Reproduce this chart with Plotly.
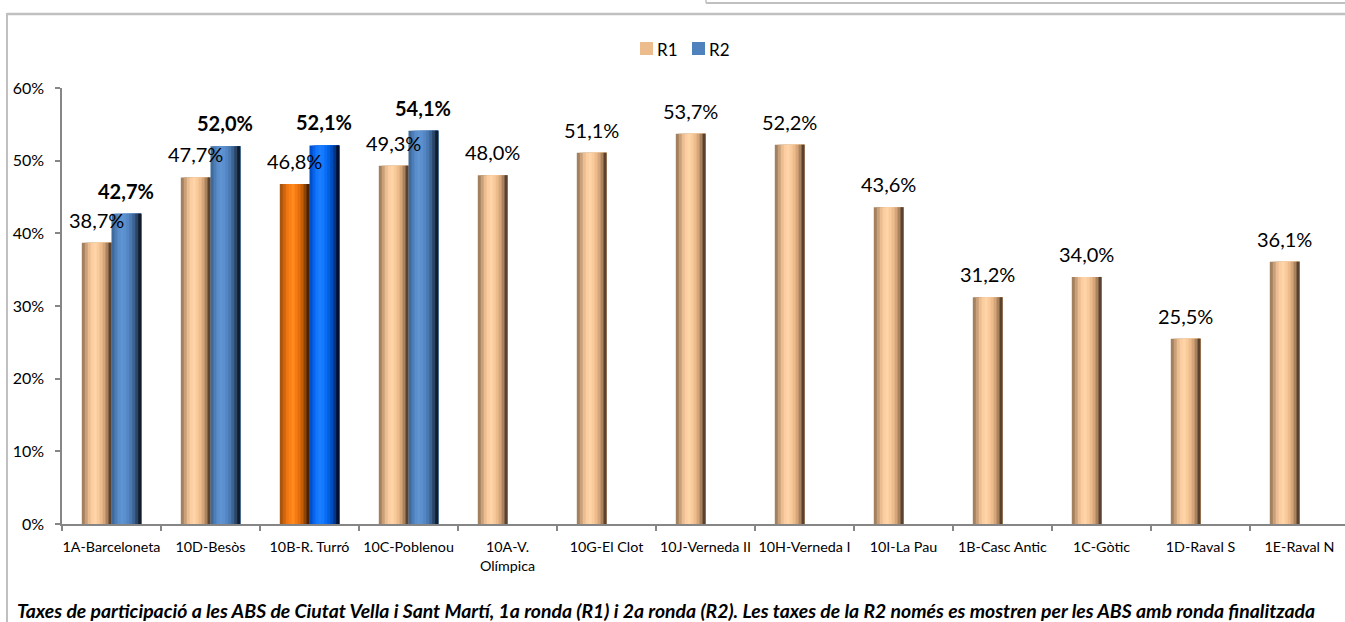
import plotly.graph_objects as go

# ---------------- data ----------------
categories = ["1A-Barceloneta", "10D-Besòs", "10B-R. Turró", "10C-Poblenou",
              "10A-V.<br>Olímpica", "10G-El Clot", "10J-Verneda II", "10H-Verneda I",
              "10I-La Pau", "1B-Casc Antic", "1C-Gòtic", "1D-Raval S", "1E-Raval N"]
r1 = [0.387, 0.477, 0.468, 0.493, 0.480, 0.511, 0.537, 0.522, 0.436, 0.312, 0.340, 0.255, 0.361]
r2 = [0.427, 0.520, 0.521, 0.541, None, None, None, None, None, None, None, None, None]
highlight = "10B-R. Turró"
series_names = ["R1", "R2"]
y_ticks = [0, 0.1, 0.2, 0.3, 0.4, 0.5, 0.6]
caption = ("Taxes de participació a les ABS de Ciutat Vella i Sant Martí, 1a ronda (R1) i 2a ronda (R2). "
           "Les taxes de la R2 només es mostren per les ABS amb ronda finalitzada")

# ---------------- styling ----------------
FONT = "Lato"
W, H = 1345, 622
ML, MR, MT, MB = 62, 0, 88, 98
PW = W - ML - MR
PH = H - MT - MB
CAT_PX = 99.0
x_max = -0.5 + PW / CAT_PX

def px_x(px):
    return (px - ML) / PW

def px_y(py):
    return (H - MB - py) / PH

BAR_W = 0.3
N_STRIPS = 10
SW = BAR_W / N_STRIPS

r1_norm = ['#A4815E', '#C9A07A', '#EBBE92', '#FBCDA0', '#FFD5A8', '#F9CA9B', '#EDBC8D', '#D6A67A', '#A9825E', '#5A4230']
r1_hi = ['#A8560E', '#D0640C', '#EE7612', '#FA8016', '#FF8A1E', '#F47A14', '#E46E0E', '#C45E08', '#8E4406', '#4A2202']
r2_norm = ['#3F6A9C', '#4E7EB8', '#5A8ECB', '#5F94D3', '#5B8FCD', '#5386C2', '#4A78B0', '#3C6392', '#2A4566', '#111D2C']
r2_hi = ['#0050C8', '#0864EE', '#1276FF', '#1A7EFF', '#147AFF', '#0A6CF4', '#0060E0', '#004EBC', '#00368A', '#00102E']
legend_cols = ["#EDBC8D", "#4F81BD"]


def fmt(v):
    return f"{v * 100:.1f}%".replace(".", ",")


fig = go.Figure()

series = [
    (series_names[0], r1, -BAR_W, r1_norm, r1_hi),
    (series_names[1], r2, 0.0, r2_norm, r2_hi),
]
for name, vals, base_off, norm, hi in series:
    for i in range(N_STRIPS):
        cols = [hi[i] if c == highlight else norm[i] for c in categories]
        fig.add_trace(go.Bar(
            x=categories, y=vals, name=name,
            offset=base_off + i * SW, width=BAR_W - i * SW,
            marker=dict(color=cols, line=dict(width=0)),
            showlegend=False, hoverinfo="skip",
        ))

annotations = []
# value labels
for c, v in zip(categories, r1):
    annotations.append(dict(x=c, y=v, xref="x", yref="y", text=fmt(v), showarrow=False,
                            xshift=-BAR_W / 2 * CAT_PX, yshift=23, yanchor="middle",
                            font=dict(family=FONT, size=20, color="#000000")))
for c, v in zip(categories, r2):
    if v is None:
        continue
    annotations.append(dict(x=c, y=v, xref="x", yref="y", text=fmt(v), showarrow=False,
                            xshift=BAR_W / 2 * CAT_PX, yshift=23, yanchor="middle",
                            font=dict(family=FONT, size=20, color="#000000", weight="bold")))
# caption
annotations.append(dict(x=px_x(15), y=px_y(610), xref="paper", yref="paper", text=caption,
                        showarrow=False, xanchor="left", yanchor="middle",
                        font=dict(family=FONT, size=19.4, color="#000000", weight="bold", style="italic")))

frame_col = "#C0C0C0"
shapes = [
    # outer frame (top + left)
    dict(type="line", xref="paper", yref="paper", x0=px_x(7), x1=px_x(W), y0=px_y(14), y1=px_y(14),
         line=dict(color=frame_col, width=2.5)),
    dict(type="line", xref="paper", yref="paper", x0=px_x(7), x1=px_x(7), y0=px_y(13), y1=px_y(H),
         line=dict(color=frame_col, width=2)),
    # top-right box fragment
    dict(type="line", xref="paper", yref="paper", x0=px_x(706), x1=px_x(W), y0=px_y(3), y1=px_y(3),
         line=dict(color=frame_col, width=2)),
    dict(type="line", xref="paper", yref="paper", x0=px_x(706), x1=px_x(706), y0=px_y(0), y1=px_y(3),
         line=dict(color=frame_col, width=1.5)),
]

# manual legend
leg_sym_x = [640, 692]
for name, col, sx in zip(series_names, legend_cols, leg_sym_x):
    shapes.append(dict(type="rect", xref="paper", yref="paper",
                       x0=px_x(sx), x1=px_x(sx + 13), y0=px_y(55), y1=px_y(42),
                       fillcolor=col, line=dict(width=0)))
    annotations.append(dict(x=px_x(sx + 15), y=px_y(49), xref="paper", yref="paper", text=name,
                            showarrow=False, xanchor="left", yanchor="middle",
                            font=dict(family=FONT, size=17, color="#000000")))

fig.update_layout(
    width=W, height=H,
    margin=dict(l=ML, r=MR, t=MT, b=MB, pad=0),
    paper_bgcolor="#FFFFFF", plot_bgcolor="#FFFFFF",
    barmode="overlay",
    font=dict(family=FONT, size=13, color="#000000"),
    showlegend=False,
    xaxis=dict(type="category", range=[-0.5, x_max], showgrid=False, zeroline=False,
               showline=True, linecolor="#868686", linewidth=1.5,
               ticks="outside", ticklen=5, tickcolor="#868686", tickwidth=1.5,
               tickson="boundaries", ticklabelstandoff=9, tickangle=0,
               tickfont=dict(family=FONT, size=14.3, color="#000000"), fixedrange=True),
    yaxis=dict(range=[0, 0.6], tickvals=y_ticks, tickformat=".0%", showgrid=False, zeroline=False,
               showline=True, linecolor="#868686", linewidth=1.5,
               ticks="outside", ticklen=5, tickcolor="#868686", tickwidth=1.5,
               ticklabelstandoff=8,
               tickfont=dict(family=FONT, size=16, color="#000000"), fixedrange=True),
    annotations=annotations,
    shapes=shapes,
)

fig.write_html("out.html", config={"displayModeBar": False},
               post_script="document.documentElement.style.overflow='hidden';"
                           "document.body.style.margin='0';document.body.style.overflow='hidden';")
